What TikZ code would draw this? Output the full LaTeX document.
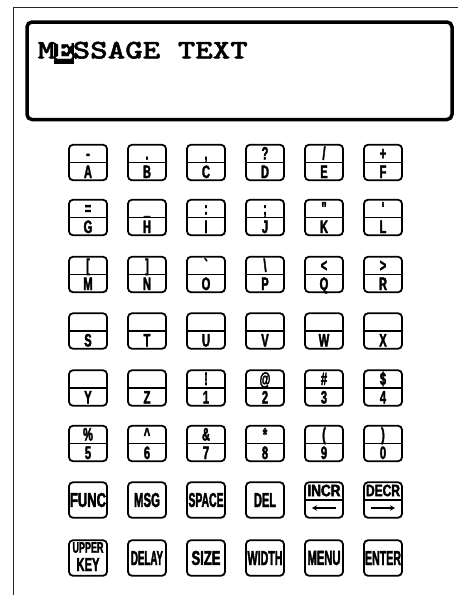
\documentclass[tikz,border=0pt]{standalone}
\usepackage{fontspec}
\usepackage{graphicx}
\usetikzlibrary{arrows.meta}
\newfontfamily\keyfont[FakeStretch=0.62,FakeBold=2,Ligatures=TeXOff]{Liberation Sans}
\newfontfamily\dispfont[Extension=.otf,FakeStretch=1.235,FakeBold=1.5,Ligatures=TeXOff]{lmmonolt10-bold}
\tikzset{
  keybox/.style={draw=black, line width=1.8pt, rounded corners=4pt,
    minimum width=38pt, minimum height=35.5pt, inner sep=0pt},
  divider/.style={line width=1.6pt},
  keysym/.style={font=\keyfont\bfseries\fontsize{18}{18}\selectfont,
    inner sep=0pt, anchor=base},
  wordtxt/.style={inner sep=0pt},
  keyarrow/.style={line width=1.6pt, -{Stealth[length=5pt,width=5.5pt]}}
}
% full key: name, x, y, upper symbol, lower symbol
\newcommand\fullkey[5]{%
  \node[keybox] (#1) at (#2,#3) {};
  \draw[divider] (#1.west) -- (#1.east);
  \node[keysym] (#1t) at ([yshift=3pt]#1.center) {#4};
  \node[keysym] (#1b) at ([yshift=-15.5pt]#1.center) {#5};
}
% key with blank upper half
\newcommand\lowkey[4]{%
  \node[keybox] (#1) at (#2,#3) {};
  \draw[divider] (#1.west) -- (#1.east);
  \node[keysym] (#1b) at ([yshift=-15.5pt]#1.center) {#4};
}
% word key: name, x, y, width, text
\newcommand\wordkey[5]{%
  \node[keybox] (#1) at (#2,#3) {\resizebox{#4}{14pt}{\keyfont\bfseries #5}};
}
\begin{document}
\begin{tikzpicture}[x=1pt,y=-1pt]
\useasboundingbox (0,0) rectangle (458,595);
% outer frame
\draw[line width=1.5pt, black!85] (13.5,595) -- (13.5,7.5) -- (458,7.5);
% display
\draw[line width=3.5pt, rounded corners=5pt] (27,22) rectangle (452,119.5);
\node[fill=black, minimum width=20.5pt, minimum height=20.5pt, inner sep=0pt] (ebox) at (63.75,53.25) {};
\node[anchor=base west, inner sep=0pt,
  font=\dispfont\fontsize{27}{27}\selectfont] (msg) at (37.5,58.5)
  {M\textcolor{white}{E}SSAGE TEXT};
% row 1
\fullkey{ka}{88}{162.5}{-}{A}
\fullkey{kb}{147}{162.5}{.}{B}
\fullkey{kc}{206}{162.5}{,}{C}
\fullkey{kd}{265}{162.5}{?}{D}
\fullkey{ke}{324}{162.5}{/}{E}
\fullkey{kf}{383}{162.5}{+}{F}
% row 2
\fullkey{kg}{88}{217.5}{=}{G}
\fullkey{kh}{147}{217.5}{\_}{H}
\fullkey{ki}{206}{217.5}{:}{I}
\fullkey{kj}{265}{217.5}{;}{J}
\fullkey{kk}{324}{217.5}{\symbol{34}}{K}
\fullkey{kl}{383}{217.5}{\symbol{39}}{L}
% row 3
\fullkey{km}{88}{274.5}{[}{M}
\fullkey{kn}{147}{274.5}{]}{N}
\fullkey{ko}{206}{274.5}{\symbol{96}}{O}
\fullkey{kp}{265}{274.5}{\textbackslash}{P}
\fullkey{kq}{324}{274.5}{<}{Q}
\fullkey{kr}{383}{274.5}{>}{R}
% row 4
\lowkey{ks}{88}{331}{S}
\lowkey{kt}{147}{331}{T}
\lowkey{ku}{206}{331}{U}
\lowkey{kv}{265}{331}{V}
\lowkey{kw}{324}{331}{W}
\lowkey{kx}{383}{331}{X}
% row 5
\lowkey{ky}{88}{388}{Y}
\lowkey{kz}{147}{388}{Z}
\fullkey{k1}{206}{388}{!}{1}
\fullkey{k2}{265}{388}{@}{2}
\fullkey{k3}{324}{388}{\#}{3}
\fullkey{k4}{383}{388}{\$}{4}
% row 6
\fullkey{k5}{88}{443.5}{\%}{5}
\fullkey{k6}{147}{443.5}{\textasciicircum}{6}
\fullkey{k7}{206}{443.5}{\&}{7}
\fullkey{k8}{265}{443.5}{*}{8}
\fullkey{k9}{324}{443.5}{(}{9}
\fullkey{k0}{383}{443.5}{)}{0}
% row 7
\wordkey{func}{88}{500}{36pt}{FUNC}
\wordkey{msgk}{147}{500}{26pt}{MSG}
\wordkey{space}{206}{500}{35pt}{SPACE}
\wordkey{del}{265}{500}{22pt}{DEL}
\node[keybox] (incr) at (324,500) {};
\draw[divider] (incr.west) -- (incr.east);
\node[wordtxt] (incrt) at ([yshift=9.5pt]incr.center) {\resizebox{33pt}{11.5pt}{\keyfont\bfseries INCR}};
\draw[keyarrow] ([shift={(12,8)}]incr.center) -- ([shift={(-12,8)}]incr.center);
\node[keybox] (decr) at (383,500) {};
\draw[divider] (decr.west) -- (decr.east);
\node[wordtxt] (decrt) at ([yshift=9.5pt]decr.center) {\resizebox{34pt}{11.5pt}{\keyfont\bfseries DECR}};
\draw[keyarrow] ([shift={(-12,8)}]decr.center) -- ([shift={(12,8)}]decr.center);
% row 8
\node[keybox] (upper) at (88,558) {};
\node[wordtxt] (uppert) at ([yshift=10.5pt]upper.center) {\resizebox{31pt}{10.5pt}{\keyfont\bfseries UPPER}};
\node[wordtxt] (upperb) at ([yshift=-6.5pt]upper.center) {\resizebox{23pt}{13pt}{\keyfont\bfseries KEY}};
\wordkey{delay}{147}{558}{32pt}{DELAY}
\wordkey{size}{206}{558}{29pt}{SIZE}
\wordkey{width}{265}{558}{35pt}{WIDTH}
\wordkey{menu}{324}{558}{33pt}{MENU}
\wordkey{enter}{383}{558}{36pt}{ENTER}
\end{tikzpicture}
\end{document}
